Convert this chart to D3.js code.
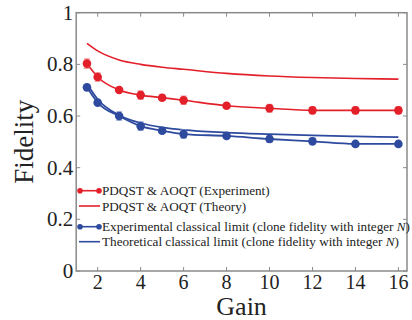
<!doctype html>
<html>
<head>
  <meta charset="utf8">
  <title>fidelity</title>
  <style>
    body {
      margin: 0;
      padding: 0;
      background: #fff;
    }
  </style>
</head>
<body>
  <svg></svg>

  <script src="https://d3js.org/d3.v7.min.js"></script>
  <script>
    // values
    const gains = [1.5, 2, 3, 4, 5, 6, 8, 10, 12, 14, 16]
    const redExp = [0.803, 0.751, 0.701, 0.681, 0.671, 0.661, 0.640, 0.630, 0.622, 0.622, 0.622]
    const redErr = [0.018, 0.016, 0.008, 0.016, 0.010, 0.016, 0.008, 0.015, 0.013, 0.013, 0.013]
    const redTheory = [0.881, 0.852, 0.817, 0.800, 0.789, 0.781, 0.765, 0.755, 0.749, 0.745, 0.743]
    const blueExp = [0.711, 0.652, 0.600, 0.561, 0.543, 0.530, 0.523, 0.511, 0.502, 0.492, 0.492]
    const blueErr = [0.010, 0.008, 0.016, 0.016, 0.008, 0.016, 0.008, 0.013, 0.013, 0.008, 0.008]
    const blueTheory = [0.725, 0.665, 0.603, 0.573, 0.556, 0.546, 0.536, 0.530, 0.525, 0.521, 0.518]
    const xTicks = [2, 4, 6, 8, 10, 12, 14, 16]
    const yTicks = [0, 0.2, 0.4, 0.6, 0.8, 1]
    const legendLabels = [
      'PDQST & AOQT (Experiment)',
      'PDQST & AOQT (Theory)',
      'Experimental classical limit (clone fidelity with integer ',
      'Theoretical classical limit (clone fidelity with integer '
    ]

    const width = 412
    const height = 320
    const m = { top: 12.7, right: 5, bottom: 49, left: 76.2 }

    const red = '#e3202a'
    const redLight = '#f08a8e'
    const blue = '#2e4a9e'
    const blueLight = '#8a9ed0'
    const axisColor = '#8a8a8a'
    const serif = '"Liberation Serif", "DejaVu Serif", serif'

    const svg = d3.select('svg')
      .attr('width', width)
      .attr('height', height)
      .style('display', 'block')

    const x = d3.scaleLinear().domain([1, 16.4]).range([m.left, width - m.right])
    const y = d3.scaleLinear().domain([0, 1]).range([height - m.bottom, m.top])

    // frame
    svg.append('rect')
      .attr('x', x(1))
      .attr('y', y(1))
      .attr('width', x(16.4) - x(1))
      .attr('height', y(0) - y(1))
      .style('fill', 'none')
      .style('stroke', axisColor)
      .style('stroke-width', 1.5)

    // inward ticks on all four sides
    const ticks = svg.append('g').style('stroke', axisColor).style('stroke-width', 1)
    xTicks.forEach(t => {
      ticks.append('line').attr('x1', x(t)).attr('x2', x(t)).attr('y1', y(0)).attr('y2', y(0) - 4)
      ticks.append('line').attr('x1', x(t)).attr('x2', x(t)).attr('y1', y(1)).attr('y2', y(1) + 4)
    })
    yTicks.forEach(t => {
      ticks.append('line').attr('x1', x(1)).attr('x2', x(1) + 4).attr('y1', y(t)).attr('y2', y(t))
      ticks.append('line').attr('x1', x(16.4)).attr('x2', x(16.4) - 4).attr('y1', y(t)).attr('y2', y(t))
    })

    svg.append('g').selectAll('text')
      .data(xTicks)
      .join('text')
      .attr('x', d => x(d))
      .attr('y', y(0) + 18)
      .style('text-anchor', 'middle')
      .style('font-family', serif)
      .style('font-size', '20px')
      .style('fill', '#222')
      .text(d => d)

    svg.append('g').selectAll('text')
      .data(yTicks)
      .join('text')
      .attr('x', x(1) - 3)
      .attr('y', d => y(d) + 7)
      .style('text-anchor', 'end')
      .style('font-family', serif)
      .style('font-size', '21px')
      .style('fill', '#222')
      .text(d => d)

    svg.append('text')
      .attr('x', (x(1) + x(16.4)) / 2)
      .attr('y', 315)
      .style('text-anchor', 'middle')
      .style('font-family', serif)
      .style('font-size', '26px')
      .style('fill', '#222')
      .text('Gain')

    svg.append('text')
      .attr('transform', `translate(33, ${(y(0) + y(1)) / 2}) rotate(-90)`)
      .style('text-anchor', 'middle')
      .style('font-family', serif)
      .style('font-size', '27px')
      .style('fill', '#222')
      .text('Fidelity')

    const line = d3.line()
      .x(d => x(d[0]))
      .y(d => y(d[1]))
      .curve(d3.curveMonotoneX)

    function curve (vals, color, w) {
      svg.append('path')
        .datum(gains.map((g, i) => [g, vals[i]]))
        .attr('d', line)
        .style('fill', 'none')
        .style('stroke', color)
        .style('stroke-width', w)
    }

    function points (vals, errs, color, light) {
      const g = svg.append('g')
      gains.forEach((gn, i) => {
        const cx = x(gn)
        const lo = y(vals[i] - errs[i])
        const hi = y(vals[i] + errs[i])
        g.append('line').attr('x1', cx).attr('x2', cx).attr('y1', lo).attr('y2', hi)
          .style('stroke', light).style('stroke-width', 1.2)
        g.append('line').attr('x1', cx - 3).attr('x2', cx + 3).attr('y1', lo).attr('y2', lo)
          .style('stroke', light).style('stroke-width', 1.2)
        g.append('line').attr('x1', cx - 3).attr('x2', cx + 3).attr('y1', hi).attr('y2', hi)
          .style('stroke', light).style('stroke-width', 1.2)
      })
      g.selectAll('circle')
        .data(gains)
        .join('circle')
        .attr('cx', d => x(d))
        .attr('cy', (d, i) => y(vals[i]))
        .attr('r', 4.3)
        .style('fill', color)
    }

    curve(redTheory, red, 1.6)
    curve(redExp, red, 1.6)
    curve(blueTheory, blue, 1.8)
    curve(blueExp, blue, 1.8)
    points(redExp, redErr, red, redLight)
    points(blueExp, blueErr, blue, blueLight)

    // legend
    const legendY = [190.7, 206, 226.7, 241.7]
    const legendColors = [red, red, blue, blue]
    const legend = svg.append('g')
    legendLabels.forEach((label, i) => {
      const ly = legendY[i]
      legend.append('line')
        .attr('x1', 79).attr('x2', 100).attr('y1', ly).attr('y2', ly)
        .style('stroke', legendColors[i]).style('stroke-width', 1.6)
      if (i % 2 === 0) {
        legend.append('circle').attr('cx', 80).attr('cy', ly).attr('r', 2.8).style('fill', legendColors[i])
        legend.append('circle').attr('cx', 99).attr('cy', ly).attr('r', 2.8).style('fill', legendColors[i])
      }
      const t = legend.append('text')
        .attr('x', 102)
        .attr('y', ly + 4.5)
        .style('font-family', serif)
        .style('font-size', '13.2px')
        .style('fill', '#222')
        .text(label)
      if (i >= 2) {
        t.append('tspan').style('font-style', 'italic').text('N')
        t.append('tspan').text(')')
      }
    })
  </script>
</body>
</html>
